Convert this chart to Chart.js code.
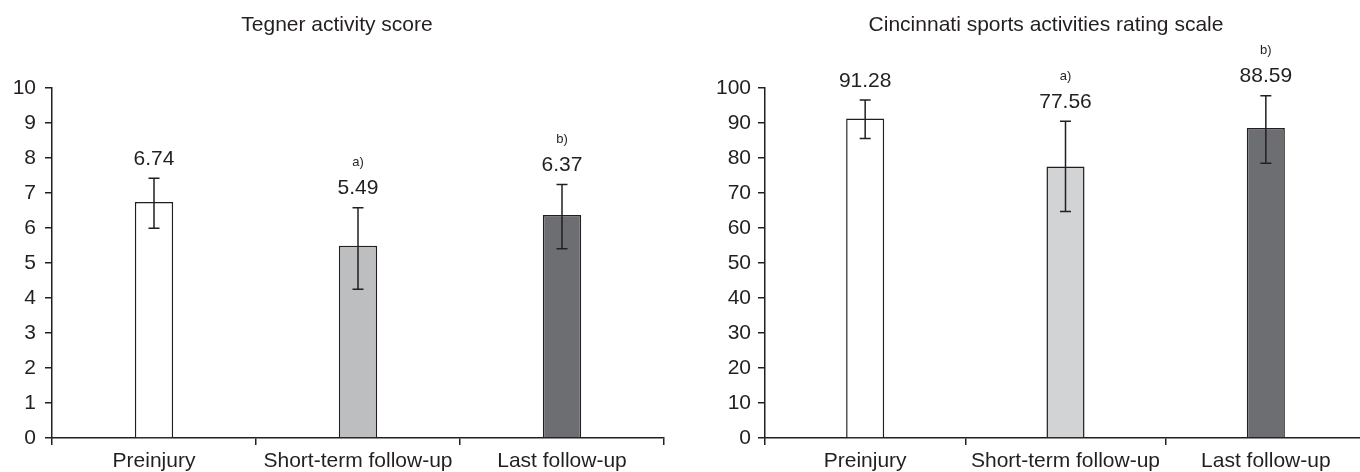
<!DOCTYPE html>
<html><head><meta charset="utf-8">
<script src="https://cdn.jsdelivr.net/npm/chart.js@4.4.1/dist/chart.umd.min.js"></script>
<style>
html,body{margin:0;padding:0;background:#fff;overflow:hidden;width:1360px;height:472px;position:relative;}
#cL{position:absolute;left:0;top:0;}
#cR{position:absolute;left:680px;top:0;}
</style></head><body>
<canvas id="cL" width="680" height="472"></canvas>
<canvas id="cR" width="700" height="472"></canvas>
<script>
const categories = ['Preinjury', 'Short-term follow-up', 'Last follow-up'];

const tegnerTitle = 'Tegner activity score';
const tegnerMeans = [6.74, 5.49, 6.37];
const tegnerLow   = [5.99, 4.25, 5.41];
const tegnerHigh  = [7.42, 6.58, 7.24];
const tegnerMarks = ['', 'a)', 'b)'];
const tegnerColors = ['#ffffff', '#bcbec0', '#6d6e71'];

const cincTitle = 'Cincinnati sports activities rating scale';
const cincMeans = [91.28, 77.56, 88.59];
const cincLow   = [85.6, 64.7, 78.5];
const cincHigh  = [96.6, 90.5, 97.8];
const cincMarks = ['', 'a)', 'b)'];
const cincColors = ['#ffffff', '#d1d3d4', '#6d6e71'];

const INK = '#231f20';
const FONT = '"Liberation Sans", Arial, sans-serif';

function annotPlugin(title, titleX, means, lows, highs, marks) {
  return {
    id: 'annot',
    afterDatasetsDraw(chart) {
      const ctx = chart.ctx, ys = chart.scales.y, meta = chart.getDatasetMeta(0);
      ctx.save();
      ctx.strokeStyle = INK; ctx.lineWidth = 1.5;
      ctx.fillStyle = INK; ctx.textAlign = 'center'; ctx.textBaseline = 'middle';
      meta.data.forEach((bar, i) => {
        const x = bar.x, yl = ys.getPixelForValue(lows[i]), yh = ys.getPixelForValue(highs[i]);
        ctx.beginPath();
        ctx.moveTo(x, yl); ctx.lineTo(x, yh);
        ctx.moveTo(x - 5.5, yh); ctx.lineTo(x + 5.5, yh);
        ctx.moveTo(x - 5.5, yl); ctx.lineTo(x + 5.5, yl);
        ctx.stroke();
        ctx.font = '21px ' + FONT;
        ctx.fillText(means[i].toFixed(2), x, yh - 19);
        if (marks[i]) { ctx.font = '13px ' + FONT; ctx.fillText(marks[i], x, yh - 45); }
      });
      ctx.font = '21px ' + FONT;
      ctx.fillText(title, titleX, 25);
      ctx.restore();
    }
  };
}

function makeChart(id, title, titleX, means, lows, highs, marks, colors, maxV, step, yWidth, padRight, barPct, labelPad) {
  return new Chart(document.getElementById(id), {
    type: 'bar',
    data: {
      labels: categories,
      datasets: [{
        data: means,
        backgroundColor: colors,
        borderColor: INK,
        borderWidth: 1.5,
        borderSkipped: 'bottom',
        categoryPercentage: 1,
        barPercentage: barPct
      }]
    },
    options: {
      responsive: false,
      devicePixelRatio: 1,
      animation: false,
      layout: { padding: { top: 88, left: 0, right: padRight, bottom: 0 } },
      plugins: { legend: { display: false }, tooltip: { enabled: false }, title: { display: false } },
      scales: {
        x: {
          offset: true,
          grid: { offset: true, drawOnChartArea: false, drawTicks: true, tickLength: 7, color: INK, lineWidth: 1.5 },
          border: { display: true, color: INK, width: 1.5 },
          ticks: { color: INK, font: { family: FONT, size: 21 }, padding: 4, maxRotation: 0, autoSkip: false },
          afterFit: s => { s.height = 34; }
        },
        y: {
          min: 0, max: maxV,
          grid: { drawOnChartArea: false, drawTicks: true, tickLength: 7, color: INK, lineWidth: 1.5 },
          border: { display: true, color: INK, width: 1.5 },
          ticks: { stepSize: step, color: INK, font: { family: FONT, size: 21 }, padding: labelPad },
          afterFit: s => { s.width = yWidth; }
        }
      }
    },
    plugins: [annotPlugin(title, titleX, means, lows, highs, marks)]
  });
}

makeChart('cL', tegnerTitle, 337, tegnerMeans, tegnerLow, tegnerHigh, tegnerMarks, tegnerColors, 10, 1, 52, 16, 0.188, 9);
makeChart('cR', cincTitle, 366, cincMeans, cincLow, cincHigh, cincMarks, cincColors, 100, 10, 85, 14, 0.19, 7);
</script>
</body></html>
